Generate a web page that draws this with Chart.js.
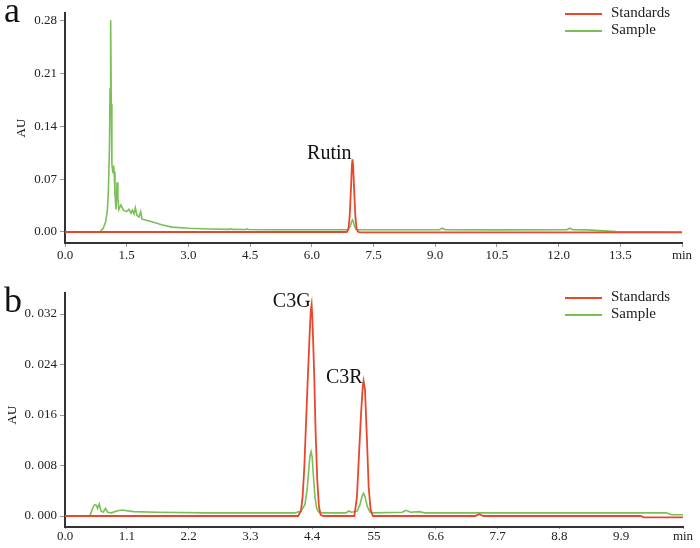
<!DOCTYPE html>
<html>
<head>
<meta charset="utf-8">
<script src="https://cdn.jsdelivr.net/npm/chart.js@4.4.1/dist/chart.umd.min.js"></script>
<style>
  html, body { margin: 0; padding: 0; background: #ffffff; }
  body { width: 700px; height: 548px; position: relative; overflow: hidden; }
  .panel { position: absolute; left: 0; width: 700px; }
  #wrapA { top: 0; height: 270px; }
  #wrapB { top: 270px; height: 278px; }
</style>
</head>
<body>
<div class="panel" id="wrapA"><canvas id="chartA"></canvas></div>
<div class="panel" id="wrapB"><canvas id="chartB"></canvas></div>
<script>
// ---------- Panel a data (time in min, absorbance in AU) ----------
const seriesNames = ["Standards", "Sample"];

const timeA_std = [0, 6.85, 6.89, 6.92, 6.95, 6.975, 6.99, 7.005, 7.03, 7.06, 7.09, 7.12, 7.16, 15];
const auA_std   = [0, 0, 0.004, 0.02, 0.055, 0.088, 0.0965, 0.088, 0.055, 0.02, 0.004, 0.0005, -0.0005, -0.0005];

const timeA_smp = [0, 0.8, 0.85, 0.93, 0.99, 1.03, 1.055, 1.08, 1.095, 1.11, 1.125, 1.14, 1.15, 1.165, 1.18, 1.195,
  1.215, 1.24, 1.265, 1.285, 1.31, 1.36, 1.42, 1.5, 1.556, 1.605, 1.64, 1.68, 1.71, 1.75, 1.8, 1.84, 1.87, 1.95,
  2.11, 2.35, 2.6, 3.0, 3.5, 4.0, 4.03, 4.06, 4.4, 4.43, 4.46, 5.0, 6.0, 6.88, 6.92, 6.95, 6.97, 6.99, 7.01, 7.04,
  7.08, 7.12, 8.0, 9.1, 9.17, 9.25, 10.5, 12.2, 12.27, 12.35, 12.7, 13.4, 15];
const auA_smp   = [0, 0, 0.0004, 0.005, 0.014, 0.029, 0.055, 0.11, 0.19, 0.281, 0.17, 0.09, 0.085, 0.078, 0.088, 0.08,
  0.05, 0.03, 0.066, 0.045, 0.03, 0.036, 0.029, 0.027, 0.03, 0.025, 0.029, 0.024, 0.032, 0.022, 0.02, 0.027, 0.017, 0.016,
  0.0135, 0.0095, 0.0065, 0.005, 0.004, 0.0035, 0.0045, 0.0035, 0.0033, 0.0042, 0.0033, 0.003, 0.003, 0.003, 0.006, 0.01, 0.014, 0.016, 0.014, 0.007,
  0.0035, 0.003, 0.003, 0.003, 0.005, 0.003, 0.0028, 0.003, 0.005, 0.003, 0.0028, 0.0005, 0];

const xTicksA = [0, 1.5, 3, 4.5, 6, 7.5, 9, 10.5, 12, 13.5, 15];
const xTickLabelsA = ["0.0", "1.5", "3.0", "4.5", "6.0", "7.5", "9.0", "10.5", "12.0", "13.5", "min"];
const yTicksA = [0, 0.07, 0.14, 0.21, 0.28];
const yTickLabelsA = ["0.00", "0.07", "0.14", "0.21", "0.28"];
const peakNamesA = ["Rutin"];
const peakTimesA = [6.99];
const peakValuesA = [0.0965];

// ---------- Panel b data ----------
const timeB_std = [0, 4.15, 4.2, 4.23, 4.26, 4.29, 4.32, 4.35, 4.375, 4.39, 4.405, 4.435, 4.46, 4.49, 4.52, 4.55, 4.6,
  5.15, 5.196, 5.24, 5.27, 5.3, 5.315, 5.34, 5.375, 5.405, 5.44, 5.48, 7.3, 7.37, 7.45, 10.25, 10.3, 11];
const auB_std   = [0, 0, 0.0008, 0.0031, 0.0078, 0.0147, 0.0215, 0.0279, 0.0326, 0.0335, 0.031, 0.0226, 0.0136, 0.0057, 0.0015, 0.0002, 0,
  0, 0.003, 0.011, 0.0163, 0.0205, 0.0214, 0.02, 0.012, 0.0046, 0.001, 0, 0, 0.0003, 0, 0, -0.0002, -0.0002];

const timeB_smp = [0, 0.44, 0.5, 0.53, 0.56, 0.58, 0.61, 0.64, 0.68, 0.72, 0.76, 0.83, 0.92, 1.01, 1.22, 1.64, 2.5, 3.5,
  4.1, 4.2, 4.27, 4.31, 4.34, 4.36, 4.38, 4.4, 4.42, 4.45, 4.48, 4.52, 4.6, 5.0, 5.05, 5.1, 5.2, 5.25, 5.29, 5.315,
  5.34, 5.38, 5.43, 5.5, 6.0, 6.07, 6.15, 6.3, 6.4, 10.7, 10.8, 11];
const auB_smp   = [0, 0, 0.0014, 0.0018, 0.0017, 0.0012, 0.0019, 0.0008, 0.0006, 0.0012, 0.0006, 0.0005, 0.0008, 0.00095, 0.0007, 0.0006, 0.0005, 0.0005,
  0.0005, 0.0008, 0.0018, 0.0042, 0.0075, 0.0095, 0.0102, 0.0093, 0.0065, 0.003, 0.0012, 0.0006, 0.0005, 0.0005, 0.0008, 0.0006, 0.0008, 0.0018, 0.0032, 0.0036,
  0.0031, 0.0015, 0.0006, 0.0005, 0.0006, 0.0009, 0.0006, 0.0007, 0.0005, 0.0005, 0.0002, 0.0002];

const xTicksB = [0, 1.1, 2.2, 3.3, 4.4, 5.5, 6.6, 7.7, 8.8, 9.9, 11];
const xTickLabelsB = ["0.0", "1.1", "2.2", "3.3", "4.4", "55", "6.6", "7.7", "8.8", "9.9", "min"];
const yTicksB = [0, 0.008, 0.016, 0.024, 0.032];
const yTickLabelsB = ["0. 000", "0. 008", "0. 016", "0. 024", "0. 032"];
const peakNamesB = ["C3G", "C3R"];
const peakTimesB = [4.39, 5.315];
const peakValuesB = [0.0335, 0.0214];

// ---------- styling ----------
const RED = "#e8472c";
const GREEN = "#79c056";
const SERIF = "'Liberation Serif', 'DejaVu Serif', serif";
Chart.defaults.font.family = SERIF;
Chart.defaults.color = "#222";

function pts(t, v) { return t.map((x, i) => ({ x: x, y: v[i] })); }

function makeChart(id, cfg) {
  const overlay = {
    id: "overlay_" + id,
    afterDatasetsDraw(chart) {
      const ctx = chart.ctx;
      const xs = chart.scales.x, ys = chart.scales.y;
      ctx.save();
      // panel letter
      ctx.fillStyle = "#111";
      ctx.font = "36px " + SERIF;
      ctx.textAlign = "left";
      ctx.textBaseline = "alphabetic";
      ctx.fillText(cfg.letter, 4, cfg.letterY);
      // AU axis title
      ctx.save();
      ctx.translate(cfg.auX, cfg.auY);
      ctx.rotate(-Math.PI / 2);
      ctx.font = "13px " + SERIF;
      ctx.textAlign = "center";
      ctx.textBaseline = "middle";
      ctx.fillText("AU", 0, 0);
      ctx.restore();
      // peak labels
      ctx.font = "20px " + SERIF;
      ctx.textAlign = "right";
      ctx.textBaseline = "alphabetic";
      cfg.peakNames.forEach((n, i) => {
        const px = xs.getPixelForValue(cfg.peakTimes[i]);
        const py = ys.getPixelForValue(cfg.peakValues[i]);
        ctx.fillText(n, px - 1, py + cfg.peakDy);
      });
      // legend
      ctx.font = "15px " + SERIF;
      ctx.textAlign = "left";
      ctx.textBaseline = "middle";
      chart.data.datasets.forEach((ds, i) => {
        const y = cfg.legendY + i * 17;
        ctx.strokeStyle = ds.borderColor;
        ctx.lineWidth = 2;
        ctx.beginPath();
        ctx.moveTo(565, y);
        ctx.lineTo(602, y);
        ctx.stroke();
        ctx.fillStyle = "#222";
        ctx.fillText(ds.label, 611, y - 1);
      });
      ctx.restore();
    }
  };

  return new Chart(document.getElementById(id), {
    type: "line",
    data: {
      datasets: [
        { label: seriesNames[0], data: pts(cfg.tStd, cfg.vStd), borderColor: RED, borderWidth: 1.8, pointRadius: 0, tension: 0, order: 0 },
        { label: seriesNames[1], data: pts(cfg.tSmp, cfg.vSmp), borderColor: GREEN, borderWidth: 1.6, pointRadius: 0, tension: 0, order: 1 }
      ]
    },
    options: {
      responsive: true,
      maintainAspectRatio: false,
      animation: false,
      devicePixelRatio: 1,
      layout: { padding: { left: 0, right: cfg.padRight, top: cfg.padTop, bottom: 0 } },
      plugins: { legend: { display: false }, tooltip: { enabled: false } },
      scales: {
        x: {
          type: "linear",
          min: cfg.xTicks[0],
          max: cfg.xTicks[cfg.xTicks.length - 1],
          afterBuildTicks: (s) => { s.ticks = cfg.xTicks.map(v => ({ value: v })); },
          afterFit: (s) => { s.height = cfg.xAxisH; },
          ticks: {
            autoSkip: false, maxRotation: 0, padding: cfg.xTickPad,
            font: { size: 13, family: SERIF }, color: "#222",
            callback: (v, i) => cfg.xLabels[i]
          },
          grid: { display: true, drawOnChartArea: false, drawTicks: true, tickLength: cfg.xTickLen, tickColor: "#9a9a9a", tickWidth: 1 },
          border: { display: true, color: "#333", width: 2 }
        },
        y: {
          type: "linear",
          min: cfg.yMin,
          max: cfg.yMax,
          afterBuildTicks: (s) => { s.ticks = cfg.yTicks.map(v => ({ value: v })); },
          afterFit: (s) => { s.width = 65; },
          ticks: {
            autoSkip: false, padding: 3,
            font: { size: 13, family: SERIF }, color: "#222",
            callback: (v, i) => cfg.yLabels[i]
          },
          grid: { display: true, drawOnChartArea: false, drawTicks: true, tickLength: 5, tickColor: "#9a9a9a", tickWidth: 1 },
          border: { display: true, color: "#333", width: 2 }
        }
      }
    },
    plugins: [overlay]
  });
}

makeChart("chartA", {
  tStd: timeA_std, vStd: auA_std, tSmp: timeA_smp, vSmp: auA_smp,
  xTicks: xTicksA, xLabels: xTickLabelsA, yTicks: yTicksA, yLabels: yTickLabelsA,
  yMin: -0.0146, yMax: 0.2906, padRight: 18, padTop: 13, xAxisH: 27, xTickLen: 4, xTickPad: 1,
  letter: "a", letterY: 22, auX: 22, auY: 128, legendY: 14,
  peakNames: peakNamesA, peakTimes: peakTimesA, peakValues: peakValuesA, peakDy: 0
});

makeChart("chartB", {
  tStd: timeB_std, vStd: auB_std, tSmp: timeB_smp, vSmp: auB_smp,
  xTicks: xTicksB, xLabels: xTickLabelsB, yTicks: yTicksB, yLabels: yTickLabelsB,
  yMin: -0.00174, yMax: 0.03541, padRight: 17, padTop: 22.5, xAxisH: 21, xTickLen: 2, xTickPad: 0,
  letter: "b", letterY: 42, auX: 13, auY: 145, legendY: 28,
  peakNames: peakNamesB, peakTimes: peakTimesB, peakValues: peakValuesB, peakDy: 2
});
</script>
</body>
</html>
